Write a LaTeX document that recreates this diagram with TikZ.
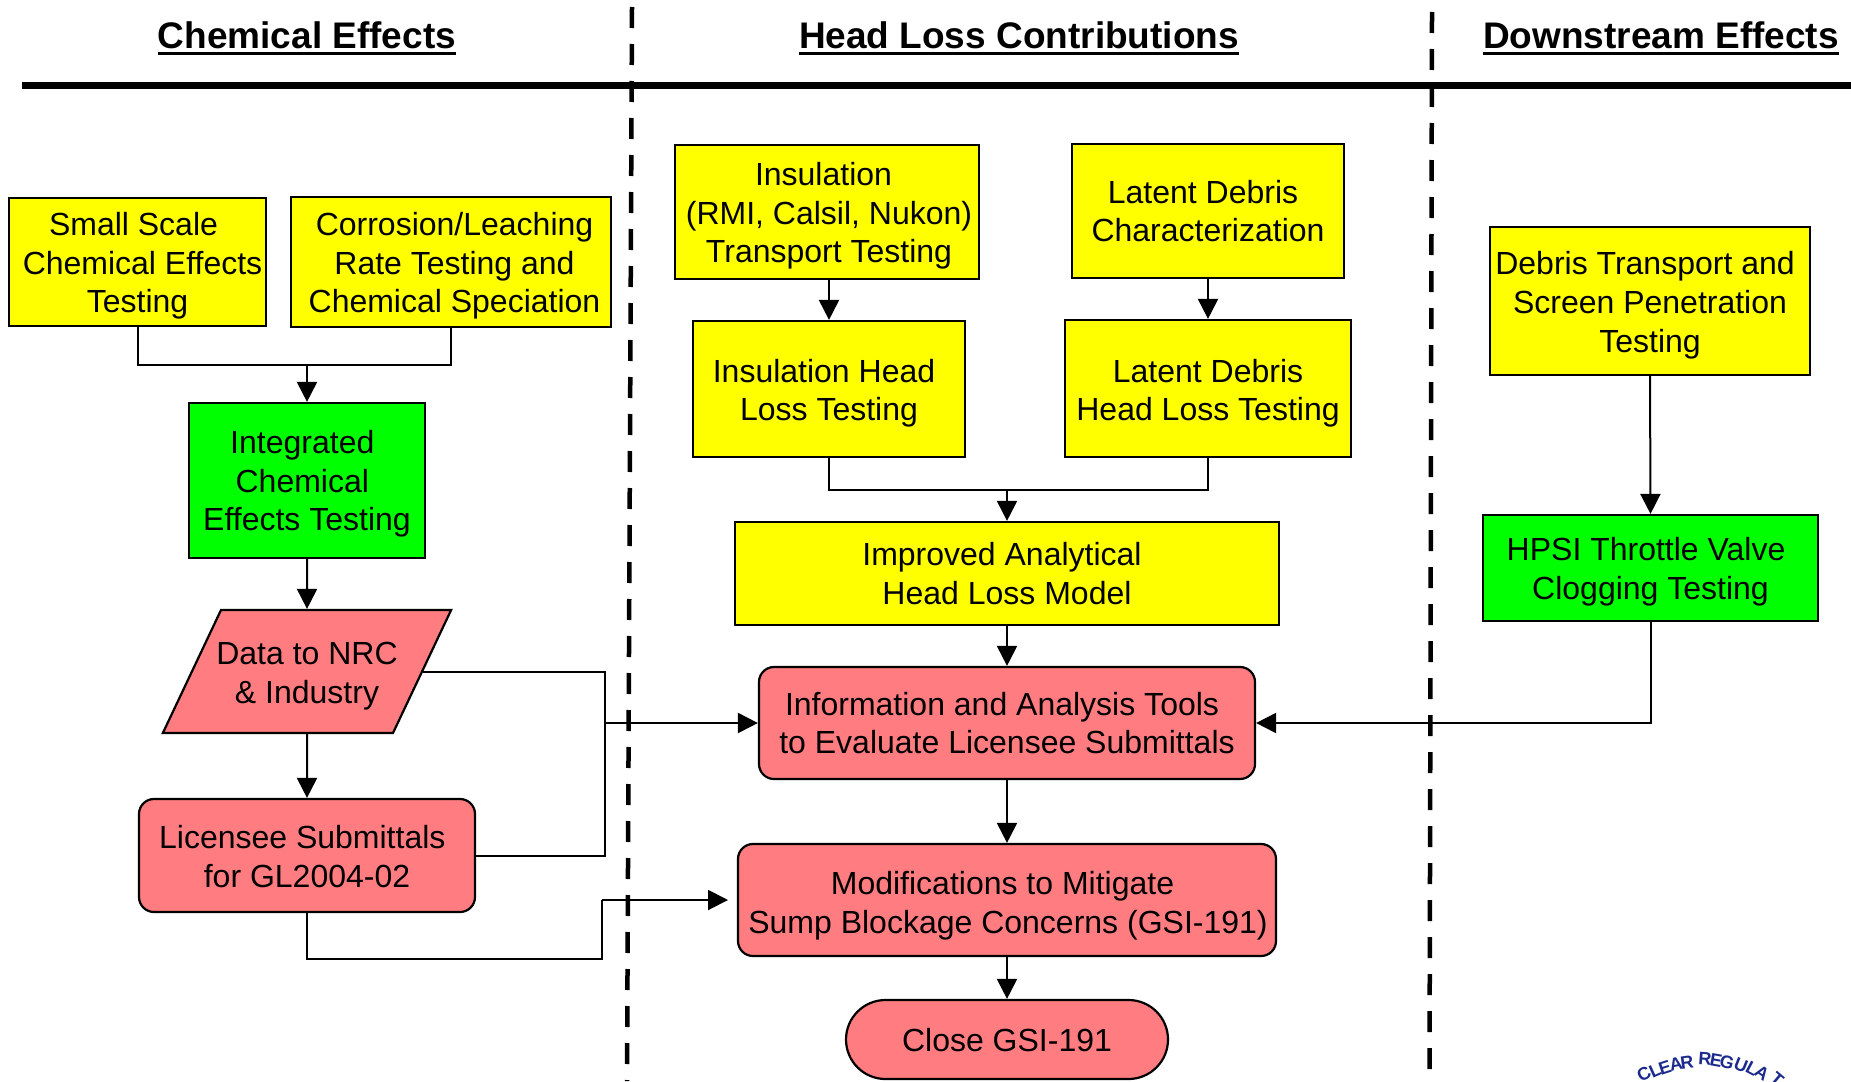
\documentclass[tikz,border=0pt]{standalone}
\usepackage{fontspec}
\setmainfont{Liberation Sans}
\usetikzlibrary{arrows.meta,shapes.geometric,shapes.misc}
\definecolor{pinkbox}{RGB}{255,124,128}
\definecolor{ybfill}{RGB}{255,255,0}
\definecolor{gbfill}{RGB}{0,255,0}
\definecolor{sealblue}{RGB}{27,42,140}
\newcommand{\ulhead}[1]{\setbox0\hbox{#1}\rlap{\rule[-7pt]{\wd0}{3.4pt}}\box0}
% one text line: horizontal offset, drop of the baseline from the node's centre line, text
\newlength{\tlx}
\newcommand{\tl}[3]{\setlength{\tlx}{#1pt}\hspace*{2\tlx}\raisebox{-#2pt}[0pt][0pt]{#3}}
\tikzset{
 base/.style={draw=black,line width=2.2pt,align=center,inner sep=0pt,
   font=\fontsize{32}{38.6}\selectfont},
 ybox/.style={base,fill=ybfill},
 gbox/.style={base,fill=gbfill},
 pbox/.style={base,fill=pinkbox,rounded corners=15pt},
 para/.style={base,fill=pinkbox,trapezium,trapezium left angle=64.7,trapezium right angle=115.3,trapezium stretches body,inner ysep=42.2pt},
 stadium/.style={base,fill=pinkbox,rounded rectangle},
 head/.style={inner sep=0pt,font=\fontsize{37}{40}\selectfont\bfseries},
 conn/.style={line width=2pt,draw=black},
 arr/.style={conn,-{Triangle[length=20pt,width=20pt]}},
 divider/.style={line width=4.5pt,dash pattern=on 21pt off 16pt},
 sealtxt/.style={inner sep=0pt,text=sealblue,font=\fontsize{18}{18}\selectfont\bfseries}
}
\begin{document}
\begin{tikzpicture}[x=1pt,y=-1pt]
\useasboundingbox (0,0) rectangle (1851,1081);
\clip (0,0) rectangle (1851,1081);
% headers
\node[head] (h1) at (307,38.5) {\ulhead{Chemical Effects}};
\node[head] (h2) at (1019,38.5) {\ulhead{Head Loss Contributions}};
\node[head] (h3) at (1661,38.5) {\ulhead{Downstream Effects}};
\coordinate (ruleL) at (22,85);
\coordinate (ruleR) at (1851,85);
\draw[line width=7pt] (ruleL) -- (ruleR);
\coordinate (d1a) at (632,7);
\coordinate (d1b) at (627,1081);
\coordinate (d2a) at (1432,12);
\coordinate (d2b) at (1429.5,1081);
\draw[divider] (d1a) -- (d1b);
\draw[divider] (d2a) -- (d2b);
% boxes
\node[ybox,minimum width=257pt,minimum height=128pt] (small) at (137.5,262) {\tl{-4}{12}{Small Scale}\\\tl{5}{12}{Chemical Effects}\\\tl{0}{12}{Testing}};
\node[ybox,minimum width=320pt,minimum height=130pt] (corr) at (451,262) {\tl{3.5}{12}{Corrosion/Leaching}\\\tl{3.5}{12}{Rate Testing and}\\\tl{3.5}{12}{Chemical Speciation}};
\node[gbox,minimum width=236pt,minimum height=155pt] (integ) at (307,480.5) {\tl{-4.7}{11.5}{Integrated}\\\tl{-4.7}{11.5}{Chemical}\\\tl{0}{11.5}{Effects Testing}};
\node[para,minimum height=123pt] (data) at (307,671.5) {\tl{0}{12.5}{\makebox[172pt][c]{Data to NRC}}\\\tl{0}{12.5}{\makebox[172pt][c]{\& Industry}}};
\node[pbox,minimum width=336pt,minimum height=113pt] (lic) at (307,855.5) {\tl{-4.7}{12.5}{Licensee Submittals}\\\tl{0}{12.5}{for GL2004-02}};
\node[ybox,minimum width=304pt,minimum height=134pt] (ins) at (827,212) {\tl{-3.5}{12.5}{Insulation}\\\tl{2}{12}{(RMI, Calsil, Nukon)}\\\tl{2}{12}{Transport Testing}};
\node[ybox,minimum width=272pt,minimum height=134pt] (lat) at (1208,211) {\tl{-5}{11.5}{Latent Debris}\\\tl{0}{11.5}{Characterization}};
\node[ybox,minimum width=272pt,minimum height=136pt] (inshl) at (829,389) {\tl{-5}{13}{Insulation Head}\\\tl{0}{12.5}{Loss Testing}};
\node[ybox,minimum width=286pt,minimum height=137pt] (lathl) at (1208,388.5) {\tl{0}{13}{Latent Debris}\\\tl{0}{13}{Head Loss Testing}};
\node[ybox,minimum width=544pt,minimum height=103pt] (model) at (1007,573.5) {\tl{-5}{11.5}{Improved Analytical}\\\tl{0}{11.5}{Head Loss Model}};
\node[pbox,minimum width=496pt,minimum height=112pt] (info) at (1007,723) {\tl{-5}{11.5}{Information and Analysis Tools}\\\tl{0}{11.5}{to Evaluate Licensee Submittals}};
\node[pbox,minimum width=538pt,minimum height=112pt] (mod) at (1007,900) {\tl{-4.5}{14}{Modifications to Mitigate}\\\tl{1}{14}{Sump Blockage Concerns (GSI-191)}};
\node[stadium,minimum width=322pt,minimum height=79pt] (close) at (1007,1039.5) {\tl{0}{12}{Close GSI-191}};
\node[ybox,minimum width=320pt,minimum height=148pt] (deb) at (1650,301) {\tl{-5}{12.5}{Debris Transport and}\\\tl{0}{12.5}{Screen Penetration}\\\tl{0}{12.5}{Testing}};
\node[gbox,minimum width=335pt,minimum height=106pt] (hpsi) at (1650.5,568) {\tl{-4.5}{12}{HPSI Throttle Valve}\\\tl{0}{12}{Clogging Testing}};
% connectors
\coordinate (j1) at (307,365);
\coordinate (j2) at (1007,490);
\coordinate (j3) at (605,723);
\coordinate (m1) at (602,959);
\coordinate (m2) at (602,900);
\coordinate (modin) at (728,900);
\draw[conn] (small.south) |- (j1);
\draw[conn] (corr.south) |- (j1);
\draw[arr] (j1) -- (integ.north);
\draw[arr] (integ.south) -- (data.north);
\draw[arr] (data.south) -- (lic.north);
\draw[conn] (data.east) -| (j3);
\draw[conn] (lic.east) -| (j3);
\draw[arr] (j3) -- (info.west);
\draw[conn] (lic.south) |- (m1) -- (m2);
\draw[arr] (m2) -- (modin);
\draw[arr] (inshl.north |- ins.south) -- (inshl.north);
\draw[arr] (lat.south) -- (lathl.north);
\draw[conn] (inshl.south) |- (j2);
\draw[conn] (lathl.south) |- (j2);
\draw[arr] (j2) -- (model.north);
\draw[arr] (model.south) -- (info.north);
\draw[arr] (info.south) -- (mod.north);
\draw[arr] (mod.south) -- (close.north);
\draw[arr] (deb.south) -- (hpsi.north);
\draw[arr] (hpsi.south) |- (info.east);
% seal lettering
\foreach \c/\px/\py/\r [count=\i] in {C/1644/1074/28,L/1655/1071/24,E/1665/1068/18,A/1676/1064/12,R/1687/1062/8,R/1705/1059/-4,E/1716/1060/-10,G/1727/1062/-15,U/1741/1065/-22,L/1752/1069/-28,A/1762/1073/-34,T/1777/1079/-40}
  \node[sealtxt,rotate=\r] (seal\i) at (\px,\py) {\c};
\end{tikzpicture}
\end{document}
